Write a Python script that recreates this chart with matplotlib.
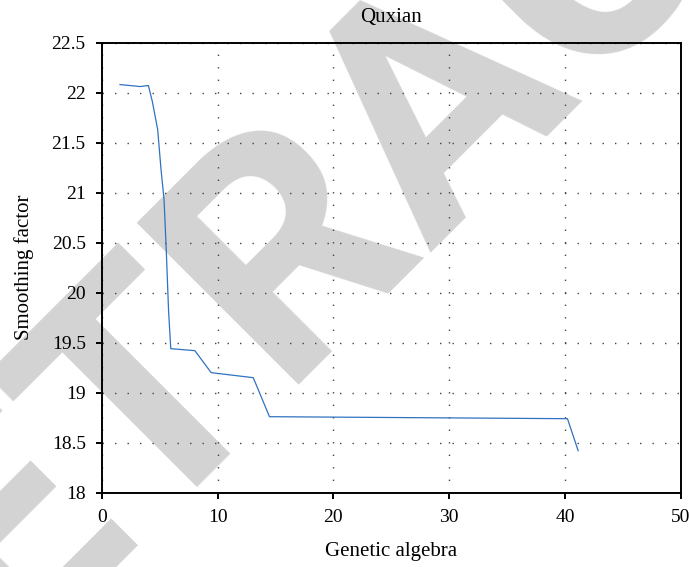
"""
Smoothing factor vs. genetic algebra (Quxian), with the RETRACTED watermark.
"""

import matplotlib
matplotlib.use("Agg")
import matplotlib.pyplot as plt

# values
generation = [1.58, 3.3, 4.03, 4.37, 4.83, 5.12, 5.38, 5.58, 5.77, 5.96,
              8.04, 9.45, 13.08, 14.48, 40.2, 41.12]
smoothing = [22.08, 22.06, 22.07, 21.91, 21.63, 21.23, 20.93, 20.40, 19.82, 19.44,
             19.42, 19.20, 19.15, 18.76, 18.74, 18.42]

xticks = [0, 10, 20, 30, 40, 50]
yticks = [18, 18.5, 19, 19.5, 20, 20.5, 21, 21.5, 22, 22.5]
ytick_labels = ["18", "18.5", "19", "19.5", "20", "20.5", "21", "21.5", "22", "22.5"]

plt.rcParams["font.family"] = ["Liberation Serif", "DejaVu Serif"]

fig = plt.figure(figsize=(6.9, 5.67), dpi=100)
ax = fig.add_axes([0.1474, 0.131, 0.8396, 0.794])
ax.set_facecolor("none")

# watermark sits under everything else; anchor is the left end of its baseline
fig.text(-0.1967, -0.4086, "RETRACTED", fontsize=232, fontfamily="Roboto",
         fontweight="bold", color="#d3d3d3", rotation=45, rotation_mode="anchor",
         ha="left", va="baseline", zorder=-1)

ax.plot(generation, smoothing, color="#2f72c0", linewidth=0.9)

ax.set_xlim(0, 50)
ax.set_ylim(18, 22.5)
ax.set_xticks(xticks)
ax.set_yticks(yticks)
ax.set_yticklabels(ytick_labels)
ax.tick_params(direction="out", length=4.5, width=1.4, labelsize=14, pad=7,
               top=False, right=False)
for sp in ax.spines.values():
    sp.set_linewidth(1.4)

ax.grid(True, color="#444444", linestyle=(0, (1, 8)), linewidth=1.0)

ax.set_title("Quxian", fontsize=15, pad=15)
ax.set_xlabel("Genetic algebra", fontsize=15, labelpad=12)
ax.set_ylabel("Smoothing factor", fontsize=15, labelpad=13)

fig.savefig("out.png", dpi=100, facecolor="white")
plt.close(fig)
